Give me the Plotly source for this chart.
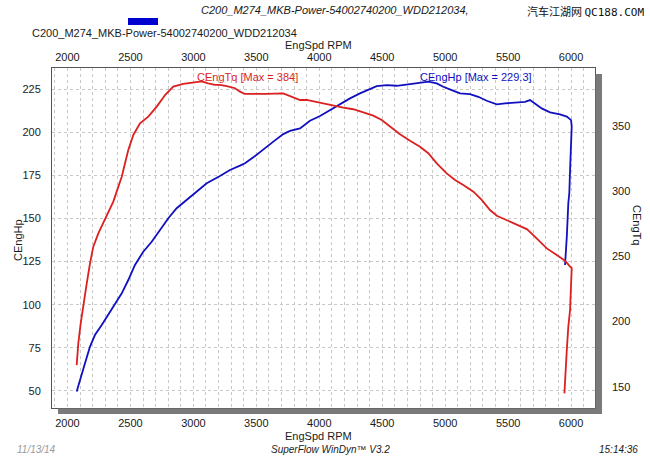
import plotly.graph_objects as go

# ---- data ----
tq_rpm = [2073, 2086, 2105, 2126, 2153, 2179, 2205, 2245, 2284, 2324, 2364, 2404, 2431, 2457, 2483,
          2523, 2576, 2642, 2709, 2775, 2840, 2920, 2999, 3066, 3118, 3172, 3211, 3265, 3331, 3370,
          3410, 3476, 3582, 3714, 3781, 3847, 3900, 3966, 4032, 4112, 4191, 4270, 4350, 4429, 4496,
          4562, 4641, 4721, 4800, 4866, 4933, 5012, 5078, 5144, 5224, 5290, 5356, 5410, 5489, 5568,
          5648, 5700, 5754, 5807, 5886, 5952, 5992, 6005, 5992, 5978, 5966, 5952, 5947]
tq_val = [166.6, 183.3, 198.6, 213.9, 229.2, 244.6, 257.3, 267.5, 275.2, 284.1, 291.8, 303.3, 310.9, 321.2, 331.4,
          342.9, 351.8, 356.9, 364.6, 373.5, 379.9, 382.0, 382.8, 384.0, 382.5, 381.2, 381.2, 380.4, 378.7, 376.1,
          374.3, 374.1, 374.3, 374.8, 372.2, 369.7, 369.7, 368.4, 366.6, 365.1, 363.8, 362.6, 360.3, 357.7, 354.4,
          349.2, 343.5, 338.5, 333.9, 328.9, 321.2, 313.5, 308.4, 304.6, 299.4, 293.1, 285.4, 281.0, 277.7, 274.7,
          270.8, 266.2, 261.1, 256.0, 250.9, 246.5, 242.0, 241.0, 208.8, 196.0, 178.1, 157.7, 144.9]

hp_rpm = [2073, 2099, 2139, 2179, 2218, 2272, 2324, 2377, 2431, 2483, 2536, 2602, 2669, 2735, 2801,
          2867, 2947, 3026, 3106, 3211, 3291, 3370, 3410, 3476, 3555, 3635, 3714, 3767, 3847, 3926,
          4006, 4085, 4165, 4244, 4323, 4403, 4456, 4536, 4615, 4721, 4800, 4866, 4933, 4985, 5052,
          5118, 5197, 5263, 5330, 5410, 5476, 5568, 5634, 5674, 5714, 5767, 5833, 5912, 5966, 6000,
          6005, 6000, 5992, 5986, 5978, 5966, 5952]
hp_val = [49.6, 56.4, 66.0, 75.7, 82.4, 88.2, 94.0, 99.8, 106.6, 114.3, 123.0, 130.7, 136.5, 143.3, 150.1,
          155.9, 160.7, 165.5, 170.4, 174.6, 178.1, 180.6, 182.0, 185.4, 189.7, 194.5, 198.9, 200.7, 202.2, 206.6,
          209.4, 212.8, 216.3, 219.6, 222.5, 225.0, 226.7, 227.3, 226.9, 227.9, 228.7, 229.3, 228.3, 226.3, 224.4,
          222.5, 222.1, 220.5, 218.2, 216.1, 216.7, 217.3, 217.6, 218.6, 216.7, 213.8, 211.5, 210.3, 209.0, 207.0,
          203.2, 187.8, 178.1, 164.7, 158.8, 139.4, 123.0]

x_ticks = [2000, 2500, 3000, 3500, 4000, 4500, 5000, 5500, 6000]
hp_ticks = [50, 75, 100, 125, 150, 175, 200, 225]
tq_ticks = [150, 200, 250, 300, 350]

RED = "#dc1f1f"
BLUE = "#1010c0"
FONT = "Liberation Sans, Arial, sans-serif"
TXT = "#1a1a1a"
GRID = "#c8c8c8"
SHADOW = "#7a7a7a"

W, H = 650, 458
L, R, T, B = 52, 55, 68, 50
PW, PH = W - L - R, H - T - B


def px(xp):
    return (xp - L) / PW


def py(yp):
    return (H - B - yp) / PH


fig = go.Figure()
fig.add_trace(go.Scatter(x=hp_rpm, y=hp_val, mode="lines", line=dict(color=BLUE, width=1.8),
                         yaxis="y", xaxis="x", showlegend=False, hoverinfo="skip"))
fig.add_trace(go.Scatter(x=tq_rpm, y=tq_val, mode="lines", line=dict(color=RED, width=1.8),
                         yaxis="y2", xaxis="x", showlegend=False, hoverinfo="skip"))
# invisible trace to activate the top x axis
fig.add_trace(go.Scatter(x=[x_ticks[0]], y=[hp_ticks[0]], mode="markers", marker=dict(opacity=0),
                         xaxis="x2", yaxis="y", showlegend=False, hoverinfo="skip"))

xr = [1877, 6190]
tickfont = dict(family=FONT, size=11, color=TXT)

fig.update_layout(
    width=W, height=H,
    margin=dict(l=L, r=R, t=T, b=B, pad=0),
    paper_bgcolor="white",
    plot_bgcolor="white",
    font=dict(family=FONT, size=11, color=TXT),
    xaxis=dict(range=xr, tickvals=x_ticks, ticktext=[str(v) for v in x_ticks],
               showgrid=True, gridcolor=GRID, griddash="3px,3px", gridwidth=1,
               minor=dict(dtick=100, tick0=0, showgrid=True, gridcolor=GRID, griddash="3px,3px", gridwidth=1),
               zeroline=False, showline=True, linecolor="#555555", linewidth=1, mirror=True,
               ticks="", ticklabelstandoff=5, tickfont=tickfont),
    xaxis2=dict(range=xr, overlaying="x", side="top", tickvals=x_ticks,
                ticktext=[str(v) for v in x_ticks], showgrid=False, zeroline=False,
                showline=False, ticks="", ticklabelstandoff=4, tickfont=tickfont),
    yaxis=dict(range=[40.1, 237.2], tickvals=hp_ticks, showgrid=True, gridcolor=GRID,
               griddash="3px,3px", gridwidth=1, zeroline=False, showline=True,
               linecolor="#555555", linewidth=1, mirror=True, ticks="",
               ticklabelstandoff=8, tickfont=tickfont),
    yaxis2=dict(range=[133.7, 394.2], tickvals=tq_ticks, overlaying="y", side="right",
                showgrid=False, zeroline=False, showline=False, ticks="",
                ticklabelstandoff=16, tickfont=tickfont),
)

# drop shadow (right and bottom strips, outside the plot panel)
fig.add_shape(type="rect", xref="paper", yref="paper", x0=px(595.5), x1=px(602), y0=py(414), y1=py(74),
              fillcolor=SHADOW, line=dict(width=0), layer="above")
fig.add_shape(type="rect", xref="paper", yref="paper", x0=px(58), x1=px(602), y0=py(414), y1=py(408.5),
              fillcolor=SHADOW, line=dict(width=0), layer="above")
# legend swatch
fig.add_shape(type="rect", xref="paper", yref="paper", x0=px(128), x1=px(158), y0=py(25), y1=py(18),
              fillcolor="#0000d0", line=dict(width=0))


def ann(text, xp, yp, xanchor="center", size=11, color=TXT, angle=0, italic=False, family=FONT):
    fig.add_annotation(text=text, x=px(xp), y=py(yp), xref="paper", yref="paper",
                       xanchor=xanchor, yanchor="middle", showarrow=False, textangle=angle,
                       font=dict(family=family, size=size, color=color,
                                 style="italic" if italic else "normal"))


ann("C200_M274_MKB-Power-54002740200_WDD212034,", 335, 10, italic=True)
ann("C200_M274_MKB-Power-54002740200_WDD212034", 30, 33, xanchor="left")
ann("EngSpd RPM", 318, 45)
ann("EngSpd RPM", 318, 436)
ann("CEngHp", 18, 240, angle=-90)
ann("CEngTq", 637, 225, angle=90)
ann("CEngTq [Max = 384]", 247, 77, color=RED)
ann("CEngHp [Max = 229.3]", 476, 77, color=BLUE)
ann("汽车江湖网 <span style='font-family:DejaVu Sans Mono'>QC188.COM</span>", 646, 11,
    xanchor="right", size=11, color="#111111", family="Noto Sans CJK SC")
ann("11/13/14", 15, 449, xanchor="left", size=10, color="#9a9a9a", italic=True)
ann("SuperFlow WinDyn™ V3.2", 330, 449, size=10, italic=True)
ann("15:14:36", 640, 449, xanchor="right", size=10, italic=True)

fig.write_html("out.html", config={"displayModeBar": False},
               post_script="document.body.style.margin='0';document.body.style.padding='0';")
